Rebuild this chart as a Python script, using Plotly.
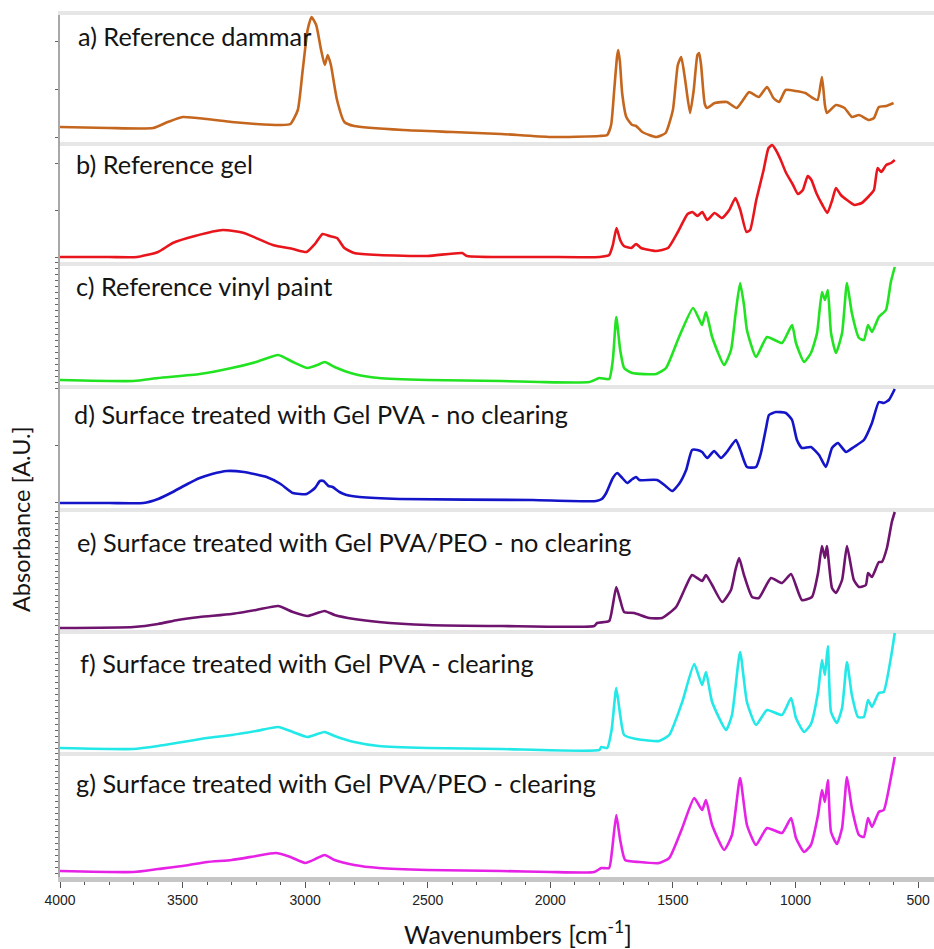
import plotly.graph_objects as go

# FTIR spectra: (wavenumber cm-1, absorbance A.U.) pairs for each sample
dammar = [(4000, 0.15), (3800, 0.14), (3620, 0.14), (3560, 0.20), (3500, 0.25), (3400, 0.23),
          (3300, 0.20), (3200, 0.18), (3100, 0.17), (3060, 0.18), (3030, 0.32), (3010, 0.72),
          (2990, 1.12), (2974, 1.25), (2955, 1.17), (2935, 0.92), (2920, 0.77), (2908, 0.87),
          (2895, 0.77), (2870, 0.42), (2840, 0.20), (2800, 0.16), (2600, 0.12), (2400, 0.10),
          (2200, 0.08), (2000, 0.05), (1800, 0.06), (1768, 0.07), (1752, 0.17), (1740, 0.50),
          (1728, 0.85), (1723, 0.92), (1716, 0.80), (1707, 0.49), (1690, 0.25), (1666, 0.17),
          (1650, 0.16), (1625, 0.10), (1568, 0.05), (1530, 0.09), (1500, 0.32), (1480, 0.77),
          (1466, 0.85), (1450, 0.62), (1430, 0.29), (1415, 0.52), (1400, 0.87), (1393, 0.89),
          (1385, 0.77), (1370, 0.38), (1360, 0.34), (1330, 0.39), (1280, 0.40), (1240, 0.34),
          (1200, 0.47), (1189, 0.50), (1150, 0.45), (1116, 0.55), (1090, 0.44), (1067, 0.40),
          (1040, 0.52), (1000, 0.51), (960, 0.49), (930, 0.44), (910, 0.42), (892, 0.65),
          (880, 0.37), (872, 0.29), (835, 0.37), (800, 0.34), (770, 0.25), (741, 0.27),
          (700, 0.22), (680, 0.24), (660, 0.35), (630, 0.36), (600, 0.39)]

gel = [(4000, 0.05), (3800, 0.05), (3686, 0.05), (3600, 0.10), (3540, 0.19), (3450, 0.26),
       (3336, 0.32), (3250, 0.29), (3132, 0.17), (3050, 0.13), (2994, 0.10), (2960, 0.18),
       (2929, 0.28), (2900, 0.26), (2870, 0.24), (2840, 0.14), (2800, 0.09), (2700, 0.07),
       (2500, 0.06), (2360, 0.09), (2340, 0.06), (2000, 0.05), (1800, 0.05), (1760, 0.07),
       (1745, 0.17), (1730, 0.34), (1715, 0.22), (1700, 0.16), (1670, 0.14), (1650, 0.18),
       (1630, 0.14), (1570, 0.11), (1520, 0.14), (1480, 0.30), (1440, 0.48), (1420, 0.50),
       (1400, 0.46), (1380, 0.50), (1360, 0.42), (1330, 0.49), (1300, 0.44), (1270, 0.52),
       (1245, 0.64), (1225, 0.52), (1200, 0.30), (1185, 0.32), (1160, 0.62), (1130, 0.92),
       (1110, 1.14), (1095, 1.17), (1080, 1.12), (1060, 1.02), (1040, 0.90), (1010, 0.77),
       (990, 0.68), (970, 0.72), (950, 0.86), (935, 0.82), (915, 0.69), (890, 0.57),
       (870, 0.49), (850, 0.62), (835, 0.74), (815, 0.67), (790, 0.62), (760, 0.57),
       (730, 0.59), (700, 0.66), (680, 0.72), (665, 0.94), (650, 0.90), (630, 0.97),
       (610, 0.99), (595, 1.02)]

vinyl_paint = [(4000, 0.05), (3700, 0.04), (3600, 0.07), (3430, 0.11), (3300, 0.17), (3200, 0.23),
               (3110, 0.30), (3050, 0.23), (2990, 0.17), (2950, 0.20), (2920, 0.23), (2880, 0.18),
               (2800, 0.11), (2700, 0.07), (2500, 0.05), (2200, 0.04), (2045, 0.03), (1841, 0.03),
               (1800, 0.07), (1760, 0.06), (1745, 0.25), (1731, 0.68), (1715, 0.35), (1699, 0.17),
               (1666, 0.12), (1568, 0.11), (1528, 0.17), (1475, 0.48), (1418, 0.77), (1395, 0.67),
               (1381, 0.60), (1365, 0.73), (1340, 0.48), (1291, 0.20), (1263, 0.35), (1245, 0.70),
               (1226, 1.02), (1210, 0.80), (1198, 0.55), (1161, 0.28), (1116, 0.48), (1055, 0.42),
               (1014, 0.60), (998, 0.42), (965, 0.23), (937, 0.32), (912, 0.52), (892, 0.93),
               (880, 0.85), (868, 0.95), (855, 0.52), (835, 0.32), (810, 0.52), (790, 1.02),
               (770, 0.72), (741, 0.47), (721, 0.45), (704, 0.60), (688, 0.53), (660, 0.68),
               (631, 0.75), (611, 1.03), (595, 1.18)]

pva_no_clearing = [(4000, 0.05), (3800, 0.05), (3660, 0.05), (3600, 0.09), (3540, 0.16), (3480, 0.24),
                   (3430, 0.30), (3380, 0.34), (3320, 0.37), (3250, 0.36), (3157, 0.31), (3100, 0.24),
                   (3050, 0.15), (2994, 0.14), (2960, 0.20), (2940, 0.27), (2925, 0.27), (2905, 0.22),
                   (2888, 0.21), (2860, 0.16), (2831, 0.13), (2778, 0.11), (2615, 0.09), (2073, 0.08),
                   (1813, 0.07), (1790, 0.09), (1772, 0.15), (1745, 0.30), (1727, 0.35), (1710, 0.31),
                   (1686, 0.25), (1665, 0.29), (1650, 0.31), (1637, 0.28), (1564, 0.28), (1530, 0.22),
                   (1503, 0.17), (1475, 0.24), (1446, 0.38), (1422, 0.58), (1400, 0.58), (1381, 0.56),
                   (1360, 0.50), (1332, 0.57), (1304, 0.50), (1280, 0.56), (1243, 0.68), (1225, 0.58),
                   (1198, 0.41), (1161, 0.41), (1141, 0.55), (1120, 0.80), (1108, 0.93), (1080, 0.96),
                   (1039, 0.95), (1014, 0.88), (994, 0.68), (974, 0.60), (937, 0.61), (904, 0.53),
                   (876, 0.41), (851, 0.60), (827, 0.65), (794, 0.56), (762, 0.61), (721, 0.68),
                   (688, 0.85), (660, 1.06), (640, 1.05), (619, 1.08), (595, 1.19)]

pva_peo_no_clearing = [(4000, 0.02), (3700, 0.03), (3600, 0.06), (3520, 0.10), (3430, 0.13), (3300, 0.16),
                       (3200, 0.20), (3110, 0.24), (3050, 0.18), (2990, 0.14), (2950, 0.17), (2920, 0.19),
                       (2880, 0.15), (2800, 0.11), (2700, 0.08), (2500, 0.05), (2200, 0.04), (1821, 0.04),
                       (1809, 0.07), (1760, 0.09), (1745, 0.25), (1731, 0.43), (1715, 0.30), (1699, 0.18),
                       (1658, 0.17), (1597, 0.12), (1544, 0.12), (1487, 0.23), (1450, 0.42), (1422, 0.55),
                       (1381, 0.49), (1365, 0.55), (1340, 0.45), (1299, 0.28), (1263, 0.40), (1245, 0.60),
                       (1230, 0.72), (1210, 0.55), (1177, 0.33), (1149, 0.32), (1100, 0.52), (1055, 0.47),
                       (1018, 0.56), (974, 0.30), (933, 0.33), (908, 0.57), (892, 0.84), (880, 0.72),
                       (872, 0.84), (851, 0.42), (835, 0.37), (810, 0.50), (790, 0.84), (762, 0.50),
                       (741, 0.43), (713, 0.45), (704, 0.57), (688, 0.53), (660, 0.68), (648, 0.68),
                       (627, 0.82), (607, 1.08), (595, 1.18)]

pva_clearing = [(4000, 0.04), (3700, 0.03), (3600, 0.06), (3500, 0.10), (3400, 0.14), (3300, 0.17),
                (3200, 0.21), (3110, 0.25), (3050, 0.20), (2990, 0.15), (2950, 0.18), (2920, 0.20),
                (2880, 0.16), (2800, 0.10), (2700, 0.06), (2500, 0.04), (2200, 0.03), (1800, 0.02),
                (1792, 0.05), (1768, 0.04), (1750, 0.22), (1731, 0.64), (1715, 0.37), (1699, 0.17),
                (1650, 0.13), (1556, 0.11), (1515, 0.17), (1462, 0.50), (1413, 0.88), (1381, 0.67),
                (1365, 0.80), (1340, 0.50), (1283, 0.22), (1259, 0.37), (1226, 1.00), (1198, 0.50),
                (1161, 0.27), (1116, 0.42), (1055, 0.37), (1018, 0.54), (998, 0.34), (965, 0.20),
                (937, 0.28), (908, 0.60), (892, 0.92), (880, 0.77), (868, 1.06), (855, 0.40),
                (831, 0.29), (810, 0.44), (790, 0.90), (770, 0.57), (745, 0.35), (721, 0.35),
                (704, 0.52), (688, 0.45), (660, 0.59), (640, 0.60), (611, 0.94), (595, 1.19)]

pva_peo_clearing = [(4000, 0.06), (3700, 0.05), (3600, 0.08), (3500, 0.11), (3400, 0.15), (3300, 0.17),
                    (3200, 0.21), (3120, 0.24), (3060, 0.20), (3000, 0.14), (2950, 0.19), (2920, 0.22),
                    (2880, 0.17), (2800, 0.12), (2700, 0.09), (2500, 0.07), (2200, 0.06), (2000, 0.05),
                    (1821, 0.05), (1792, 0.09), (1760, 0.09), (1748, 0.27), (1731, 0.62), (1715, 0.37),
                    (1695, 0.17), (1637, 0.15), (1556, 0.14), (1515, 0.19), (1462, 0.49), (1413, 0.79),
                    (1381, 0.67), (1365, 0.77), (1340, 0.52), (1291, 0.27), (1259, 0.42), (1226, 0.99),
                    (1198, 0.52), (1161, 0.32), (1116, 0.49), (1055, 0.44), (1018, 0.59), (998, 0.39),
                    (965, 0.25), (937, 0.32), (908, 0.62), (892, 0.87), (880, 0.75), (868, 0.97),
                    (855, 0.45), (831, 0.33), (810, 0.49), (790, 1.00), (770, 0.69), (741, 0.42),
                    (721, 0.40), (704, 0.59), (688, 0.50), (660, 0.65), (640, 0.67), (611, 0.99),
                    (595, 1.20)]

panel_labels = [
    "a) Reference dammar",
    "b) Reference gel",
    "c) Reference vinyl paint",
    "d) Surface treated with Gel PVA - no clearing",
    "e) Surface treated with Gel PVA/PEO - no clearing",
    "f) Surface treated with Gel PVA - clearing",
    "g) Surface treated with Gel PVA/PEO - clearing",
]
line_colors = ["#c5661e", "#e8161c", "#22e322", "#1414c8", "#6e146e", "#22e8e8", "#e622e6"]
x_tick_values = [4000, 3500, 3000, 2500, 2000, 1500, 1000, 500]

spectra = [dammar, gel, vinyl_paint, pva_no_clearing, pva_peo_no_clearing, pva_clearing, pva_peo_clearing]

# ---- layout geometry (pixels) ----
FIG_W, FIG_H = 934, 949
PLOT_L, PLOT_T, PLOT_B = 60, 15, 877
SPAN = PLOT_B - PLOT_T
panel_edges = [15, 142, 262, 385, 508, 630, 752, 877]
label_px = [(76, 36), (74, 164), (74, 286), (72, 414), (75, 542), (78, 663), (74, 783)]
y_tick_style = [(0.05, 0.48), (0.05, 0.47), (0.03, 0.06), (0.06, 0.57), (0.05, 0.06), (0.04, 0.06), (0.04, 0.06)]
X_RANGE = [4000, 435]
LABEL_FONT = "Lato, 'Open Sans', sans-serif"


def py(px):
    return (PLOT_B - px) / SPAN


def pxx(px):
    return (px - PLOT_L) / (FIG_W - PLOT_L)


fig = go.Figure()
layout_axes = {}
n_panels = len(spectra)
for i, (pairs, color) in enumerate(zip(spectra, line_colors)):
    k = "" if i == 0 else str(i + 1)
    wn = [p[0] for p in pairs]
    ab = [p[1] for p in pairs]
    fig.add_trace(go.Scatter(x=wn, y=ab, mode="lines", xaxis="x" + k, yaxis="y" + k,
                             line=dict(color=color, width=2.6, shape="spline", smoothing=0.5),
                             showlegend=False, hoverinfo="skip"))
    top, bottom = panel_edges[i], panel_edges[i + 1]
    last = i == n_panels - 1
    xa = dict(domain=[0, 1], anchor="y" + k, range=X_RANGE, showgrid=False, zeroline=False,
              showline=True, fixedrange=True)
    if i > 0:
        xa["matches"] = "x"
    if last:
        xa.update(linecolor="#c6c6c6", linewidth=5, ticks="outside", ticklen=6, tickwidth=1,
                  tickcolor="#555555", tickmode="array", tickvals=x_tick_values,
                  ticktext=[str(v) for v in x_tick_values],
                  tickfont=dict(family="'Liberation Sans Narrow', 'Arial Narrow', 'Liberation Sans', sans-serif",
                                size=14, color="#222222"),
                  minor=dict(dtick=100, tick0=500, ticks="outside", ticklen=3, tickcolor="#555555"))
    else:
        xa.update(linecolor="#e6e6e6", linewidth=4, ticks="", showticklabels=False,
                  mirror=(i == 0))
    t0, dt = y_tick_style[i]
    ya = dict(domain=[py(bottom), py(top)], anchor="x" + k, range=[0, (bottom - top) / 100],
              showgrid=False, zeroline=False, showline=True, linecolor="#a8a8a8", linewidth=2,
              ticks="outside", ticklen=3, tickwidth=1, tickcolor="#666666", tickmode="linear",
              tick0=t0, dtick=dt, showticklabels=False, fixedrange=True)
    layout_axes["xaxis" + k] = xa
    layout_axes["yaxis" + k] = ya

annotations = []
for text, (lx, ly) in zip(panel_labels, label_px):
    annotations.append(dict(text=text, x=pxx(lx), y=py(ly), xref="paper", yref="paper",
                            xanchor="left", yanchor="middle", showarrow=False,
                            font=dict(family=LABEL_FONT, size=25.3, color="#141414")))
annotations.append(dict(text="Absorbance [A.U.]", x=pxx(21), y=py(519), xref="paper", yref="paper",
                        xanchor="center", yanchor="middle", textangle=-90, showarrow=False,
                        font=dict(family=LABEL_FONT, size=23.5, color="#141414")))
annotations.append(dict(text="Wavenumbers [cm<sup>-1</sup>]", x=pxx(518), y=py(932), xref="paper",
                        yref="paper", xanchor="center", yanchor="middle", showarrow=False,
                        font=dict(family=LABEL_FONT, size=25, color="#141414")))

fig.update_layout(width=FIG_W, height=FIG_H, margin=dict(l=PLOT_L, r=0, t=PLOT_T, b=FIG_H - PLOT_B),
                  paper_bgcolor="white", plot_bgcolor="white", annotations=annotations,
                  **layout_axes)

fig.write_html("out.html")
